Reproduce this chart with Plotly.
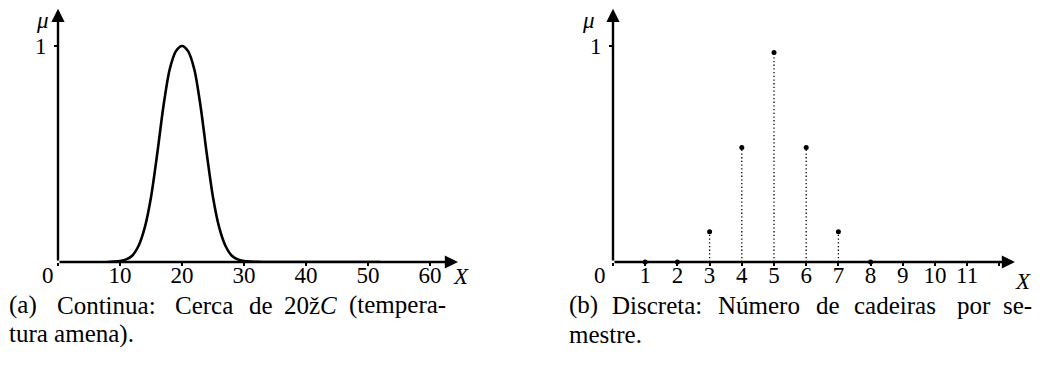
import plotly.graph_objects as go

# ---- data ----
# (a) continuous membership function, "cerca de 20"
cont_x = [8, 9, 10, 11, 12, 13, 14, 15, 16, 17, 18, 19, 20, 21, 22, 23, 24,
          25, 26, 27, 28, 29, 30, 31, 32, 33, 40, 52]
cont_mu = [0.0, 0.002, 0.005, 0.012, 0.03, 0.075, 0.16, 0.30, 0.50, 0.72, 0.89,
           0.975, 1.0, 0.975, 0.89, 0.72, 0.50, 0.30, 0.16, 0.075, 0.03, 0.012,
           0.005, 0.002, 0.001, 0.0, 0.0, 0.0]
cont_ticks = [0, 10, 20, 30, 40, 50, 60]
cont_ticktext = ["", "10", "20", "30", "40", "50", "60"]

# (b) discrete membership function
disc_x = [1, 2, 3, 4, 5, 6, 7, 8]
disc_mu = [0.0, 0.0, 0.14, 0.53, 0.97, 0.53, 0.14, 0.0]
disc_ticks = [0, 1, 2, 3, 4, 5, 6, 7, 8, 9, 10, 11, 12]
disc_ticktext = ["", "1", "2", "3", "4", "5", "6", "7", "8", "9", "10", "11", ""]

caption_a1 = ["(a)", "Continua:", "Cerca", "de", "20ž<i>C</i>", "(tempera-"]
caption_a2 = "tura amena)."
caption_b1 = ["(b)", "Discreta:", "Número", "de", "cadeiras", "por", "se-"]
caption_b2 = "mestre."

# ---- layout helpers (page body has an 8px margin) ----
OFF = 8
FW, FH = 1051 - OFF, 369 - OFF


def px(x):
    return (x - OFF) / FW


def py(y):
    return 1 - (y - OFF) / FH


SERIF = "Liberation Serif"
FS = 23
AXIS_Y = 262      # screen px of mu = 0
ONE_Y = 46        # screen px of mu = 1
UNIT_Y = AXIS_Y - ONE_Y

L_X0, L_UNIT = 58, 6.2      # left panel: screen px of X=0, px per unit
R_X0, R_UNIT = 613, 32.2    # right panel

fig = go.Figure()

# continuous curve
fig.add_trace(go.Scatter(x=cont_x, y=cont_mu, mode="lines",
                         line=dict(color="black", width=2.6, shape="spline", smoothing=0.8),
                         xaxis="x", yaxis="y", hoverinfo="skip", showlegend=False,
                         cliponaxis=False))

# discrete stems
for xv, yv in zip(disc_x, disc_mu):
    if yv > 0:
        fig.add_trace(go.Scatter(x=[xv, xv], y=[0, yv], mode="lines",
                                 line=dict(color="black", width=1.3, dash="1.3px,2.4px"),
                                 xaxis="x2", yaxis="y2", hoverinfo="skip",
                                 showlegend=False))
fig.add_trace(go.Scatter(x=disc_x, y=disc_mu, mode="markers",
                         marker=dict(color="black", size=5),
                         xaxis="x2", yaxis="y2", showlegend=False, cliponaxis=False))

ax_common = dict(showgrid=False, zeroline=False, showline=False, ticks="outside",
                 ticklen=3, tickwidth=1.5, tickcolor="black",
                 tickfont=dict(family=SERIF, size=FS, color="black"), fixedrange=True)

y_dom = [py(AXIS_Y), 1.0]
y_top = (AXIS_Y - OFF) / UNIT_Y
y_rng = [0, y_top]
L_END, R_END = 470, 1040
fig.update_layout(
    width=FW, height=FH, margin=dict(l=0, r=0, t=0, b=0),
    paper_bgcolor="white", plot_bgcolor="white",
    xaxis=dict(domain=[px(L_X0), px(L_END)], range=[0, (L_END - L_X0) / L_UNIT],
               tickmode="array", tickvals=cont_ticks, ticktext=cont_ticktext,
               anchor="y", ticklabelstandoff=-11, **ax_common),
    yaxis=dict(domain=y_dom, range=y_rng, tickmode="array",
               tickvals=[1], ticktext=["1"], anchor="x", ticklabelstandoff=3, **ax_common),
    xaxis2=dict(domain=[px(R_X0), px(R_END)], range=[0, (R_END - R_X0) / R_UNIT],
                tickmode="array", tickvals=disc_ticks, ticktext=disc_ticktext,
                anchor="y2", ticklabelstandoff=-11, **ax_common),
    yaxis2=dict(domain=y_dom, range=y_rng, tickmode="array",
                tickvals=[1], ticktext=["1"], anchor="x2", ticklabelstandoff=3, **ax_common),
)

ann = []
# axes drawn as arrows
for xr, yr, xtip in (("x", "y", (458 - L_X0) / L_UNIT), ("x2", "y2", (1015 - R_X0) / R_UNIT)):
    ann.append(dict(x=xtip, y=0, ax=0, ay=0, xref=xr, yref=yr, axref=xr, ayref=yr,
                    showarrow=True, arrowhead=2, arrowsize=1.1, arrowwidth=2.4,
                    arrowcolor="black", standoff=0, text=""))
    ann.append(dict(x=0, y=y_top - 0.004, ax=0, ay=0, xref=xr, yref=yr,
                    axref=xr, ayref=yr, showarrow=True, arrowhead=2, arrowsize=1.1,
                    arrowwidth=2.4, arrowcolor="black", standoff=0, text=""))

lab_font = dict(family=SERIF, size=FS, color="black")
labels = [  # (screen x, screen y, text)
    (48, 275, "0"), (42, 21, "<i>μ</i>"), (461, 276, "<i>X</i>"),
    (600, 275, "0"), (588, 21, "<i>μ</i>"), (1023, 281, "<i>X</i>"),
]
for sx, sy, t in labels:
    ann.append(dict(x=px(sx), y=py(sy), xref="paper", yref="paper", text=t,
                    showarrow=False, font=lab_font, xanchor="center", yanchor="middle"))

cap_font = dict(family=SERIF, size=25, color="black")
CAP1_Y, CAP2_Y = 305, 334
a1_x = [7, 55, 173, 247, 282, 347]
b1_x = [567, 610, 716, 814, 852, 955, 1001]
for sx, w in zip(a1_x, caption_a1):
    ann.append(dict(x=px(sx), y=py(CAP1_Y), xref="paper", yref="paper", xanchor="left",
                    yanchor="middle", text=w, showarrow=False, font=cap_font))
for sx, w in zip(b1_x, caption_b1):
    ann.append(dict(x=px(sx), y=py(CAP1_Y), xref="paper", yref="paper", xanchor="left",
                    yanchor="middle", text=w, showarrow=False, font=cap_font))
ann.append(dict(x=px(7), y=py(CAP2_Y), xref="paper", yref="paper", xanchor="left",
                yanchor="middle", text=caption_a2, showarrow=False, font=cap_font))
ann.append(dict(x=px(567), y=py(CAP2_Y), xref="paper", yref="paper", xanchor="left",
                yanchor="middle", text=caption_b2, showarrow=False, font=cap_font))

fig.update_layout(annotations=ann)
fig.write_html("out.html")
